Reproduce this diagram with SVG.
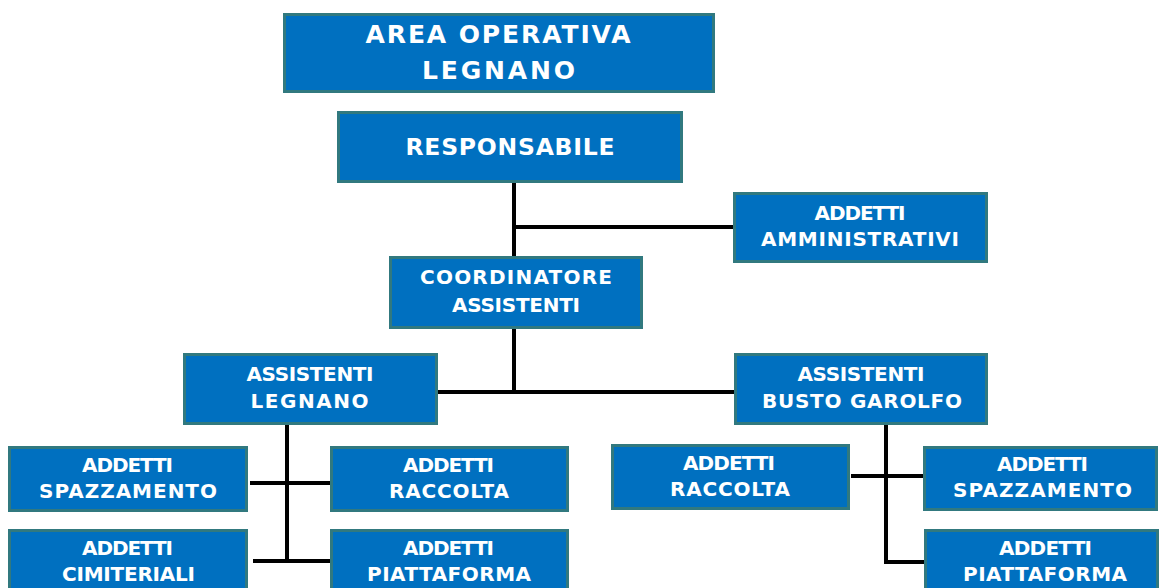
<svg xmlns="http://www.w3.org/2000/svg" width="1159" height="588" viewBox="0 0 1159 588">
  <style>
    .box { fill: #0070C0; stroke: #31797F; stroke-width: 3; }
    .t { font-family: "DejaVu Sans", "Liberation Sans", sans-serif; font-weight: bold; fill: #FFFFFF; text-anchor: middle; font-size: 20px; }
    .t1 { font-size: 25px; }
    .t2 { font-size: 23.5px; }
    .c { stroke: #000000; stroke-width: 4; fill: none; }
  </style>
  <rect width="1159" height="588" fill="#FFFFFF"/>

  <g id="connectors">
    <line class="c" x1="514" y1="183" x2="514" y2="256"/>
    <line class="c" x1="514" y1="227" x2="733" y2="227"/>
    <line class="c" x1="514" y1="329" x2="514" y2="392"/>
    <line class="c" x1="438" y1="392" x2="734" y2="392"/>
    <line class="c" x1="287" y1="425" x2="287" y2="563"/>
    <line class="c" x1="250" y1="483" x2="330" y2="483"/>
    <line class="c" x1="253" y1="561" x2="330" y2="561"/>
    <line class="c" x1="886" y1="425" x2="886" y2="562"/>
    <line class="c" x1="851" y1="476" x2="923" y2="476"/>
    <line class="c" x1="884" y1="562" x2="924" y2="562"/>
  </g>

  <g id="area">
    <rect class="box" x="284.5" y="14.5" width="429" height="77"/>
    <text class="t t1" x="498" y="43" textLength="265" lengthAdjust="spacing">AREA OPERATIVA</text>
    <text class="t t1" x="498.5" y="79" textLength="153" lengthAdjust="spacing">LEGNANO</text>
  </g>

  <g id="responsabile">
    <rect class="box" x="338.5" y="112.5" width="343" height="69"/>
    <text class="t t2" x="510" y="155" textLength="209" lengthAdjust="spacing">RESPONSABILE</text>
  </g>

  <g id="amministrativi">
    <rect class="box" x="734.5" y="193.5" width="252" height="68"/>
    <text class="t" x="860" y="220" textLength="91" lengthAdjust="spacing">ADDETTI</text>
    <text class="t" x="860" y="246" textLength="198" lengthAdjust="spacing">AMMINISTRATIVI</text>
  </g>

  <g id="coordinatore">
    <rect class="box" x="390.5" y="257.5" width="251" height="70"/>
    <text class="t" x="516" y="284" textLength="192" lengthAdjust="spacing">COORDINATORE</text>
    <text class="t" x="516" y="312" textLength="128" lengthAdjust="spacing">ASSISTENTI</text>
  </g>

  <g id="assistenti-legnano">
    <rect class="box" x="184.5" y="354.5" width="252" height="69"/>
    <text class="t" x="310" y="381" textLength="127" lengthAdjust="spacing">ASSISTENTI</text>
    <text class="t" x="309.5" y="408" textLength="118" lengthAdjust="spacing">LEGNANO</text>
  </g>

  <g id="assistenti-busto">
    <rect class="box" x="735.5" y="354.5" width="251" height="69"/>
    <text class="t" x="861" y="381" textLength="127" lengthAdjust="spacing">ASSISTENTI</text>
    <text class="t" x="862" y="408" textLength="200" lengthAdjust="spacing">BUSTO GAROLFO</text>
  </g>

  <g id="spazzamento-legnano">
    <rect class="box" x="9.5" y="447.5" width="237" height="63"/>
    <text class="t" x="127.5" y="472" textLength="91" lengthAdjust="spacing">ADDETTI</text>
    <text class="t" x="128" y="498" textLength="178" lengthAdjust="spacing">SPAZZAMENTO</text>
  </g>

  <g id="raccolta-legnano">
    <rect class="box" x="331.5" y="447.5" width="236" height="63"/>
    <text class="t" x="448.5" y="472" textLength="91" lengthAdjust="spacing">ADDETTI</text>
    <text class="t" x="449" y="498" textLength="120" lengthAdjust="spacing">RACCOLTA</text>
  </g>

  <g id="cimiteriali-legnano">
    <rect class="box" x="9.5" y="530.5" width="237" height="66"/>
    <text class="t" x="127.5" y="555" textLength="91" lengthAdjust="spacing">ADDETTI</text>
    <text class="t" x="128.5" y="581" textLength="133" lengthAdjust="spacing">CIMITERIALI</text>
  </g>

  <g id="piattaforma-legnano">
    <rect class="box" x="331.5" y="530.5" width="236" height="66"/>
    <text class="t" x="448.5" y="555" textLength="91" lengthAdjust="spacing">ADDETTI</text>
    <text class="t" x="449" y="581" textLength="164" lengthAdjust="spacing">PIATTAFORMA</text>
  </g>

  <g id="raccolta-busto">
    <rect class="box" x="612.5" y="445.5" width="236" height="63"/>
    <text class="t" x="729" y="470" textLength="92" lengthAdjust="spacing">ADDETTI</text>
    <text class="t" x="730" y="496" textLength="120" lengthAdjust="spacing">RACCOLTA</text>
  </g>

  <g id="spazzamento-busto">
    <rect class="box" x="924.5" y="447.5" width="232" height="62"/>
    <text class="t" x="1042.5" y="471" textLength="91" lengthAdjust="spacing">ADDETTI</text>
    <text class="t" x="1042.5" y="497" textLength="179" lengthAdjust="spacing">SPAZZAMENTO</text>
  </g>

  <g id="piattaforma-busto">
    <rect class="box" x="925.5" y="530.5" width="232" height="66"/>
    <text class="t" x="1045.5" y="555" textLength="93" lengthAdjust="spacing">ADDETTI</text>
    <text class="t" x="1045" y="581" textLength="164" lengthAdjust="spacing">PIATTAFORMA</text>
  </g>
</svg>
